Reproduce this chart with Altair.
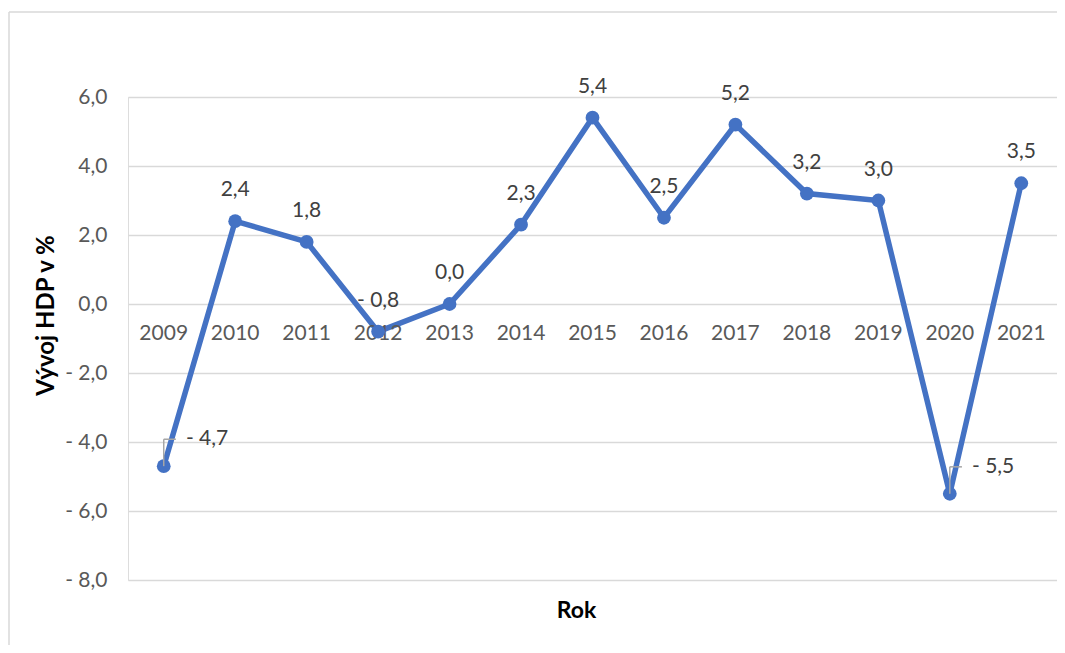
import altair as alt
import pandas as pd

# ---- data ----
years = [2009, 2010, 2011, 2012, 2013, 2014, 2015, 2016, 2017, 2018, 2019, 2020, 2021]
values = [-4.7, 2.4, 1.8, -0.8, 0.0, 2.3, 5.4, 2.5, 5.2, 3.2, 3.0, -5.5, 3.5]
y_ticks = [-8, -6, -4, -2, 0, 2, 4, 6]
side_label_years = [2009, 2020]

df = pd.DataFrame({"rok": years, "hdp": values})
df["side"] = df["rok"].isin(side_label_years)
df["zero"] = 0.0

FONT = "Lato"
BLUE = "#4472C4"
W, H = 929, 483

fmt = "(datum.hdp < 0 ? '- ' : '') + replace(format(abs(datum.hdp), '.1f'), '.', ',')"
axis_fmt = "(datum.value < 0 ? '- ' : '') + replace(format(abs(datum.value), '.1f'), '.', ',')"

xscale = alt.Scale(domain=[2008.5, 2021.5], nice=False, zero=False)
yscale = alt.Scale(domain=[-8, 6], nice=False, zero=False)

xaxis = alt.Axis(labels=False, ticks=False, domain=False, grid=False,
                 title="Rok", titleFont=FONT, titleFontSize=23, titleFontWeight="bold",
                 titleColor="#000000", titleX=448, titleY=30, titleAlign="center",
                 titleBaseline="middle")
yaxis = alt.Axis(values=y_ticks, labelExpr=axis_fmt, grid=True, gridColor="#d9d9d9",
                 gridWidth=1.5, domain=False, ticks=False, labelPadding=21,
                 labelFont=FONT, labelFontSize=21, labelColor="#595959",
                 title="Vývoj HDP v %", titleFont=FONT, titleFontSize=24,
                 titleFontWeight="bold", titleColor="#000000", titleX=-82, titleY=218,
                 titleAlign="center", titleBaseline="middle")

def X(field):
    return alt.X(field, scale=xscale, axis=xaxis)

def Y(field):
    return alt.Y(field, scale=yscale, axis=yaxis)

base = alt.Chart(df)
one = alt.Chart(pd.DataFrame({"a": [0]}))

frame_left = one.mark_rule(color="#d9d9d9", strokeWidth=1.5).encode(
    x=alt.value(-119), y=alt.value(-85), y2=alt.value(H + 100))
frame_top = one.mark_rule(color="#d9d9d9", strokeWidth=1.5).encode(
    x=alt.value(-119), x2=alt.value(W + 100), y=alt.value(-85))

line = base.mark_line(color=BLUE, strokeWidth=5.5).encode(x=X("rok:Q"), y=Y("hdp:Q"))

year_labels = base.mark_text(font=FONT, fontSize=21, color="#595959", dy=30,
                             baseline="middle").encode(
    x=X("rok:Q"), y=Y("zero:Q"), text=alt.Text("rok:N"))

points = base.mark_circle(color=BLUE, size=190, opacity=1).encode(x=X("rok:Q"), y=Y("hdp:Q"))

data_labels = base.transform_filter("!datum.side").transform_calculate(
    lbl=fmt).mark_text(font=FONT, fontSize=21, color="#404040", dy=-31,
                       baseline="middle").encode(
    x=X("rok:Q"), y=Y("hdp:Q"), text="lbl:N")

side = base.transform_filter("datum.side").transform_calculate(
    lbl=fmt, ly="datum.hdp + 0.78", lx2="datum.rok + 0.17")

lead_v = side.mark_rule(color="#a6a6a6", strokeWidth=1.5).encode(
    x=X("rok:Q"), y=Y("hdp:Q"), y2="ly:Q")
lead_h = side.mark_rule(color="#a6a6a6", strokeWidth=1.5).encode(
    x=X("rok:Q"), x2="lx2:Q", y=Y("ly:Q"))
side_labels = side.mark_text(font=FONT, fontSize=21, color="#404040", align="left",
                             dx=10, baseline="middle").encode(
    x=X("lx2:Q"), y=Y("ly:Q"), text="lbl:N")

chart = alt.layer(frame_left, frame_top, line, year_labels, points, data_labels,
                  lead_v, lead_h, side_labels).properties(
    width=W, height=H,
    autosize=alt.AutoSizeParams(type="none"),
    padding={"left": 120, "top": 89, "right": 0, "bottom": 65},
).configure_view(stroke="transparent", strokeWidth=0).configure(background="white")

chart.save("out.html", embed_options={"renderer": "svg", "actions": False})
